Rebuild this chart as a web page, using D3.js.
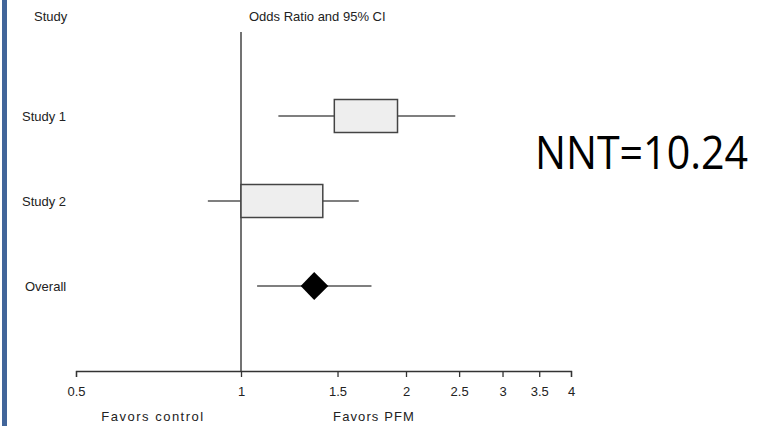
<!DOCTYPE html>
<html>
<head>
<meta charset="utf-8">
<script src="https://cdn.jsdelivr.net/npm/d3@7"></script>
<style>
  body { margin: 0; background: #fff; }
  svg text { font-family: "Liberation Sans", Arial, sans-serif; fill: #222; }
</style>
</head>
<body>
<svg width="774" height="426"></svg>
<script>
// rows of the forest plot
let studies = ["Study 1", "Study 2", "Overall"];
let oddsRatio = [1.69, 1.19, 1.36];
let ciLower = [1.17, 0.87, 1.07];
let ciUpper = [2.46, 1.64, 1.73];
let boxLower = [1.48, 1.00, 1.285];
let boxUpper = [1.93, 1.41, 1.443];
let isSummary = [false, false, true];

let tickValues = [0.5, 1, 1.5, 2, 2.5, 3, 3.5, 4];
let nntLabel = "NNT=10.24";

let svg = d3.select('svg');

// blue bar on the left edge
svg.append('rect')
  .attr('x', 2).attr('y', 0)
  .attr('width', 5).attr('height', 426)
  .attr('fill', '#41659a');

let x = d3.scaleLog().base(2).domain([0.5, 4]).range([76, 571]);

let y = d3.scalePoint()
  .domain(studies)
  .range([31, 371])
  .padding(1);

let axisY = 371;

// column headers
svg.append('text').attr('x', 34).attr('y', 21)
  .style('font-size', '13px').text('Study');
svg.append('text').attr('x', 249).attr('y', 21)
  .style('font-size', '13px').text('Odds Ratio and 95% CI');

// line of no effect
svg.append('line')
  .attr('x1', x(1)).attr('x2', x(1))
  .attr('y1', 32).attr('y2', axisY)
  .attr('stroke', '#444').attr('stroke-width', 1.5);

let rows = svg.append('g')
  .selectAll('g')
  .data(studies)
  .enter()
  .append('g');

rows.append('text')
  .attr('x', function (d) { return d === 'Overall' ? 25 : 22; })
  .attr('y', function (d) { return y(d) + 5; })
  .style('font-size', '13px')
  .text(function (d) { return d; });

rows.append('line')
  .attr('x1', function (d, i) { return x(ciLower[i]); })
  .attr('x2', function (d, i) { return x(ciUpper[i]); })
  .attr('y1', function (d) { return y(d); })
  .attr('y2', function (d) { return y(d); })
  .attr('stroke', '#555')
  .attr('stroke-width', 1.5);

rows.filter(function (d, i) { return !isSummary[i]; })
  .append('rect')
  .attr('x', function (d) { var i = studies.indexOf(d); return x(boxLower[i]); })
  .attr('width', function (d) { var i = studies.indexOf(d); return x(boxUpper[i]) - x(boxLower[i]); })
  .attr('y', function (d) { return y(d) - 16.5; })
  .attr('height', 33)
  .attr('fill', '#eeeeee')
  .attr('stroke', '#444')
  .attr('stroke-width', 1.5);

// summary diamond
rows.filter(function (d, i) { return isSummary[i]; })
  .append('path')
  .attr('d', function (d) {
    var i = studies.indexOf(d);
    var cy = y(d);
    return 'M' + x(boxLower[i]) + ',' + cy +
      'L' + x(oddsRatio[i]) + ',' + (cy - 14) +
      'L' + x(boxUpper[i]) + ',' + cy +
      'L' + x(oddsRatio[i]) + ',' + (cy + 14) + 'Z';
  })
  .attr('fill', '#000');

// x axis
let axis = svg.append('g')
  .attr('transform', 'translate(0,' + axisY + ')')
  .call(d3.axisBottom(x)
    .tickValues(tickValues)
    .tickFormat(d3.format(''))
    .tickSize(6)
    .tickPadding(10));
axis.select('.domain').attr('stroke', '#333').attr('stroke-width', 1.3);
axis.selectAll('.tick line').attr('stroke', '#333').attr('stroke-width', 1.3);
axis.selectAll('.tick text')
  .style('font-size', '13px')
  .style('font-family', '"Liberation Sans", Arial, sans-serif')
  .attr('fill', '#222');

svg.append('text').attr('x', 153).attr('y', 421)
  .attr('text-anchor', 'middle')
  .style('font-size', '13px').style('letter-spacing', '1.5px')
  .text('Favors control');
svg.append('text').attr('x', 374).attr('y', 421)
  .attr('text-anchor', 'middle')
  .style('font-size', '13px').style('letter-spacing', '1.1px')
  .text('Favors PFM');

// NNT annotation
svg.append('text')
  .attr('x', 535).attr('y', 169)
  .attr('textLength', 213)
  .attr('lengthAdjust', 'spacingAndGlyphs')
  .style('font-family', '"Open Sans", "Noto Sans", sans-serif')
  .style('font-size', '46px')
  .style('fill', '#000')
  .text(nntLabel);
</script>
</body>
</html>
